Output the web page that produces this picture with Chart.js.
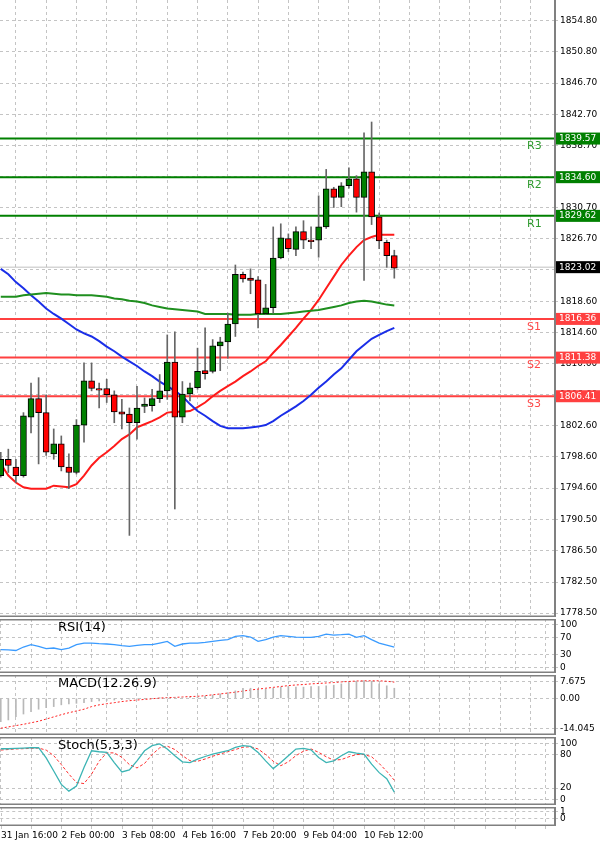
<!DOCTYPE html>
<html><head><meta charset="utf-8">
<script src="https://cdn.jsdelivr.net/npm/chart.js@4"></script>
<style>
body{margin:0;background:#fff;width:600px;height:848px;overflow:hidden;position:relative}
.p{position:absolute;left:0;width:600px}
</style></head><body>
<div class="p" style="top:0;height:617px"><canvas id="main"></canvas></div>
<div class="p" style="top:619px;height:54px"><canvas id="rsi"></canvas></div>
<div class="p" style="top:675px;height:60px"><canvas id="macd"></canvas></div>
<div class="p" style="top:737px;height:68px"><canvas id="stoch"></canvas></div>
<div class="p" style="top:807px;height:41px"><canvas id="empty"></canvas></div>
<script>
const opens=[1796.2,1798.3,1797.3,1796.2,1803.7,1806.1,1804.3,1799.0,1800.3,1797.3,1796.6,1802.7,1808.4,1807.4,1807.4,1806.6,1804.4,1804.1,1803.0,1805.1,1805.2,1806.1,1807.1,1810.8,1803.7,1806.7,1807.5,1809.7,1809.6,1812.9,1813.4,1815.7,1822.1,1821.6,1821.4,1817.0,1817.8,1824.2,1826.7,1825.3,1827.6,1826.5,1826.5,1828.2,1833.1,1832.0,1833.5,1834.4,1832.0,1835.3,1829.5,1826.2,1824.5];
const closes=[1798.3,1797.5,1796.2,1803.9,1806.1,1804.3,1799.2,1800.3,1797.3,1796.6,1802.7,1808.4,1807.4,1807.2,1806.6,1804.4,1804.1,1803.0,1804.9,1805.4,1806.1,1807.1,1810.8,1803.7,1806.7,1807.5,1809.6,1809.3,1812.9,1813.4,1815.7,1822.1,1821.5,1821.3,1817.0,1817.8,1824.2,1826.8,1825.4,1827.6,1826.5,1826.3,1828.2,1833.1,1832.0,1833.5,1834.4,1832.0,1835.3,1829.5,1826.4,1824.5,1822.9];
const highs=[1799.2,1799.6,1798.3,1804.3,1808.1,1808.8,1806.6,1802.2,1801.3,1799.0,1803.4,1810.7,1810.7,1808.1,1808.6,1807.1,1806.0,1804.9,1807.7,1806.2,1807.3,1809.2,1814.3,1814.7,1808.3,1808.1,1812.6,1815.2,1813.7,1814.0,1817.1,1823.3,1822.4,1822.8,1821.8,1820.8,1828.2,1828.6,1827.3,1828.2,1829.0,1828.2,1832.2,1835.6,1833.3,1833.9,1835.8,1834.8,1840.3,1841.7,1830.0,1826.5,1825.2];
const lows=[1796.0,1796.6,1795.3,1796.0,1801.7,1797.7,1798.8,1798.3,1796.8,1794.5,1796.4,1800.5,1807.1,1804.9,1805.6,1803.0,1802.2,1788.5,1800.9,1804.3,1804.5,1805.6,1806.0,1791.9,1803.0,1805.8,1807.3,1808.6,1809.4,1809.7,1811.3,1814.1,1821.1,1819.6,1815.2,1816.9,1817.1,1824.1,1825.0,1824.5,1825.4,1825.4,1824.3,1828.0,1830.7,1830.8,1833.2,1830.1,1821.3,1828.5,1825.4,1823.0,1821.6];
const maRed=[1797.7,1796.2,1795.3,1794.7,1794.5,1794.5,1794.5,1794.9,1794.8,1794.7,1795.1,1796.2,1797.5,1798.5,1799.2,1800.0,1800.9,1801.5,1802.4,1802.8,1803.2,1803.7,1804.3,1804.4,1804.4,1804.5,1805.0,1805.6,1806.4,1807.1,1807.7,1808.3,1809.0,1809.6,1810.3,1810.9,1812.0,1813.0,1814.1,1815.2,1816.4,1817.5,1818.8,1820.3,1821.8,1823.3,1824.5,1825.6,1826.5,1826.9,1827.2,1827.2,1827.2];
const maBlue=[1822.8,1822.1,1821.1,1820.3,1819.4,1818.6,1817.7,1817.0,1816.4,1815.7,1815.0,1814.5,1814.1,1813.5,1812.8,1812.2,1811.5,1810.9,1810.3,1809.6,1809.0,1808.3,1807.7,1807.1,1806.4,1805.4,1804.5,1803.9,1803.2,1802.6,1802.3,1802.3,1802.3,1802.4,1802.5,1802.7,1803.2,1803.9,1804.5,1805.1,1805.8,1806.6,1807.5,1808.3,1809.2,1810.0,1811.1,1812.2,1813.0,1813.8,1814.3,1814.8,1815.2];
const maGreen=[1819.2,1819.2,1819.2,1819.4,1819.5,1819.6,1819.7,1819.6,1819.5,1819.5,1819.4,1819.4,1819.4,1819.3,1819.2,1819.0,1818.9,1818.7,1818.6,1818.4,1818.1,1817.9,1817.7,1817.6,1817.5,1817.4,1817.3,1817.0,1817.0,1817.0,1817.0,1816.9,1816.9,1816.9,1817.0,1817.0,1817.0,1817.0,1817.1,1817.2,1817.3,1817.4,1817.5,1817.7,1817.9,1818.1,1818.4,1818.6,1818.7,1818.6,1818.4,1818.2,1818.1];
const rsi=[41.5,40.9,39.6,47.8,53.2,49.3,43.8,45.4,41.5,45.4,53.2,57.1,57.1,55.6,54.8,53.2,50.9,49.3,51.6,53.2,53.2,57.1,61.0,49.3,54.8,57.1,57.1,58.6,61.0,63.3,64.9,72.7,74.2,71.1,61.0,64.9,71.1,74.2,72.7,71.1,70.3,70.3,72.7,78.1,75.8,76.6,78.1,70.3,74.2,64.9,57.1,52.4,47.7];
const macdHist=[-10.7,-9.9,-8.4,-7.2,-6.1,-5.0,-4.3,-3.8,-3.0,-2.6,-2.3,-2.0,-1.5,-1.2,-1.0,-0.8,-0.6,-0.4,-0.3,-0.2,-0.1,0.1,0.2,0.1,0.2,0.4,0.6,1.0,1.5,2.0,2.6,3.4,4.6,4.6,3.8,4.1,4.6,5.1,5.4,5.1,5.1,5.4,5.4,5.7,6.0,6.6,7.2,7.8,8.1,7.8,6.6,5.7,4.6];
const macdSignal=[-13.7,-13.1,-12.5,-11.9,-11.2,-10.5,-9.5,-8.5,-7.5,-6.6,-5.8,-5.0,-3.8,-3.0,-2.5,-2.0,-1.5,-1.1,-0.8,-0.5,-0.2,0.1,0.3,0.4,0.6,0.8,0.9,1.2,1.6,2.0,2.4,2.8,3.3,3.8,4.2,4.6,5.0,5.4,5.8,6.1,6.3,6.6,6.8,7.0,7.2,7.5,7.7,7.9,8.0,8.0,8.0,7.8,7.4];
const stochK=[90.4,90.4,91.0,91.6,92.2,92.2,74.1,50.6,26.5,14.5,23.5,56.7,86.8,85.0,83.8,65.7,48.8,52.5,68.7,86.8,95.8,98.9,89.8,77.8,66.9,65.7,71.7,76.5,80.7,83.8,86.8,92.8,95.8,94.6,83.8,68.7,54.8,65.7,77.8,89.8,91.0,88.6,74.7,65.7,68.7,77.8,85.0,82.6,80.7,62.7,47.6,36.8,12.7];
const stochD=[88,89,90,90.5,91,91.5,88,78,62,45,30,28,45,68,83,83,75,62,56,64,80,92,95,89,78,69,68,72,77,81,85,89,93,94,90,80,68,60,67,78,86,90,84,76,70,71,76,80,80,76,64,50,34];
const resLevels=[1839.57,1834.60,1829.62];
const resNames=['R3','R2','R1'];
const supLevels=[1816.36,1811.38,1806.41];
const supNames=['S1','S2','S3'];
const lastPrice=1823.02;
const priceTicks=[1854.80,1850.80,1846.70,1842.70,1838.70,1834.70,1830.70,1826.70,1822.70,1818.60,1814.60,1810.60,1806.60,1802.60,1798.60,1794.60,1790.50,1786.50,1782.50,1778.50];
const rsiTicks=[100,70,30,0];
const macdTicks=[7.675,0,-14.045];
const macdTickLabels=['7.675','0.00','-14.045'];
const stochTicks=[100,80,20,0];
const emptyTicks=[1,0];
const timeLabels=['31 Jan 16:00','2 Feb 00:00','3 Feb 08:00','4 Feb 16:00','7 Feb 20:00','9 Feb 04:00','10 Feb 12:00'];

const FF='Tahoma, "DejaVu Sans", sans-serif';
const GRID='#c4c4c4';
Chart.defaults.animation=false;
Chart.defaults.font={family:FF,size:9};
Chart.defaults.color='#000';
const idx=opens.map((_,i)=>i);
const XMIN=-0.1, XMAX=73.1;

function xScale(showLabels){
  return {type:'linear',min:XMIN,max:XMAX,offset:false,display:true,
    afterBuildTicks:s=>{const t=[];for(let v=0;v<=72;v+=4)t.push({value:v});s.ticks=t;},
    grid:{color:GRID,lineWidth:1,tickLength:showLabels?3:0,drawTicks:showLabels},
    border:{display:false,dash:[3,3]},
    ticks:{display:showLabels,autoSkip:false,maxRotation:0,align:'start',padding:1,
      callback:v=>(v%8===0&&timeLabels[v/8])?timeLabels[v/8]:''},
    afterFit:s=>{s.height=showLabels?22:0;}};
}
function yScale(min,max,ticks,labelFn){
  return {position:'right',min,max,
    afterBuildTicks:s=>{s.ticks=ticks.map(v=>({value:v}));},
    afterFit:s=>{s.width=46;s.paddingTop=0;s.paddingBottom=0;},
    grid:{color:GRID,tickLength:4,drawTicks:true},
    border:{display:false,dash:[3,3]},
    ticks:{padding:2,autoSkip:false,callback:labelFn}};
}
const frame={id:'frame',afterDraw(c,a,o){
  const {ctx,chartArea:ca}=c;ctx.save();ctx.strokeStyle='#808080';ctx.lineWidth=1.5;
  ctx.beginPath();
  if(o.top){ctx.moveTo(0,ca.top+0.75);ctx.lineTo(ca.right,ca.top+0.75);}
  ctx.moveTo(0,ca.bottom-0.75);ctx.lineTo(ca.right+1,ca.bottom-0.75);
  ctx.stroke();
  ctx.lineWidth=2;ctx.beginPath();ctx.moveTo(ca.right+1,ca.top);ctx.lineTo(ca.right+1,ca.bottom);ctx.stroke();
  if(o.title){ctx.fillStyle='#000';ctx.font='13px '+FF;ctx.textBaseline='top';ctx.fillText(o.title,58,ca.top+2);}
  ctx.restore();
}};
function baseOpts(y,showX,frameOpts){
  return {responsive:true,maintainAspectRatio:false,layout:{padding:0},
    plugins:{legend:{display:false},tooltip:{enabled:false},frame:frameOpts},
    scales:{x:xScale(showX),y}};
}

const priceBoxes={id:'priceBoxes',afterDraw(c){
  const {ctx,chartArea:ca,scales:{y}}=c;ctx.save();ctx.textBaseline='middle';
  const box=(v,bg,fg)=>{const py=y.getPixelForValue(v);ctx.font='9px '+FF;ctx.fillStyle=bg;ctx.fillRect(ca.right+2,py-6,44,12);ctx.fillStyle=fg;ctx.fillText(v.toFixed(2),ca.right+5,py);};
  const name=(t,v,col)=>{ctx.font='11px '+FF;ctx.fillStyle=col;ctx.fillText(t,527,y.getPixelForValue(v)+8);};
  resLevels.forEach((v,i)=>{box(v,'#008000','#fff');name(resNames[i],v,'#2f9a2f');});
  supLevels.forEach((v,i)=>{box(v,'#ff4040','#fff');name(supNames[i],v,'#ff4a4a');});
  box(lastPrice,'#000','#fff');
  ctx.restore();
}};
const lvl=(v,color,w)=>({type:'line',data:[{x:XMIN,y:v},{x:XMAX,y:v}],borderColor:color,borderWidth:w,pointRadius:0,order:5});
const mainDatasets=[
  lvl(lastPrice,'#c0c0c0',1),
  ...resLevels.map(v=>lvl(v,'#008000',2)),
  ...supLevels.map(v=>lvl(v,'#ff4040',2)),
  {type:'line',data:idx.map(i=>({x:i,y:maGreen[i]})),borderColor:'#1f8f1f',borderWidth:2,pointRadius:0,order:4},
  {type:'line',data:idx.map(i=>({x:i,y:maBlue[i]})),borderColor:'#1a2ee8',borderWidth:2,pointRadius:0,order:4},
  {type:'line',data:idx.map(i=>({x:i,y:maRed[i]})),borderColor:'#ff1a1a',borderWidth:2,pointRadius:0,order:4},
  {type:'bar',data:idx.map(i=>({x:i,y:[lows[i],highs[i]]})),backgroundColor:'#666',barThickness:1,grouped:false,order:2},
  {type:'bar',data:idx.map(i=>({x:i,y:[opens[i],closes[i]]})),backgroundColor:idx.map(i=>closes[i]>=opens[i]?'#008000':'#ff0000'),borderColor:'#000',borderWidth:1,borderSkipped:false,barThickness:6,grouped:false,order:1},
];
new Chart(document.getElementById('main'),{type:'bar',data:{datasets:mainDatasets},
  options:baseOpts(yScale(1778.0,1857.4,priceTicks,v=>v.toFixed(2)),false,{top:false}),
  plugins:[frame,priceBoxes]});

new Chart(document.getElementById('rsi'),{type:'line',data:{datasets:[
  {data:idx.map(i=>({x:i,y:rsi[i]})),borderColor:'#3a9bff',borderWidth:1.3,pointRadius:0}]},
  options:baseOpts(yScale(-13,113.3,rsiTicks,v=>String(v)),false,{top:true,title:'RSI(14)'}),
  plugins:[frame]});

new Chart(document.getElementById('macd'),{type:'bar',data:{datasets:[
  {type:'bar',data:idx.map(i=>({x:i,y:macdHist[i]})),backgroundColor:'#b8b8b8',barThickness:1},
  {type:'line',data:idx.map(i=>({x:i,y:macdSignal[i]})),borderColor:'#ff2020',borderWidth:1,borderDash:[2,2],pointRadius:0}]},
  options:baseOpts(yScale(-16.8,10.66,macdTicks,v=>macdTickLabels[macdTicks.indexOf(v)]),false,{top:true,title:'MACD(12.26.9)'}),
  plugins:[frame]});

new Chart(document.getElementById('stoch'),{type:'line',data:{datasets:[
  {data:idx.map(i=>({x:i,y:stochK[i]})),borderColor:'#3cb4b4',borderWidth:1.3,pointRadius:0},
  {data:idx.map(i=>({x:i,y:stochD[i]})),borderColor:'#ff3030',borderWidth:1,borderDash:[3,2],pointRadius:0}]},
  options:baseOpts(yScale(-10.3,111.4,stochTicks,v=>String(v)),false,{top:true,title:'Stoch(5,3,3)'}),
  plugins:[frame]});

new Chart(document.getElementById('empty'),{type:'line',data:{datasets:[{data:[]}]},
  options:baseOpts(yScale(-1.0,1.67,emptyTicks,v=>String(v)),true,{top:true}),
  plugins:[frame]});
</script></body></html>
